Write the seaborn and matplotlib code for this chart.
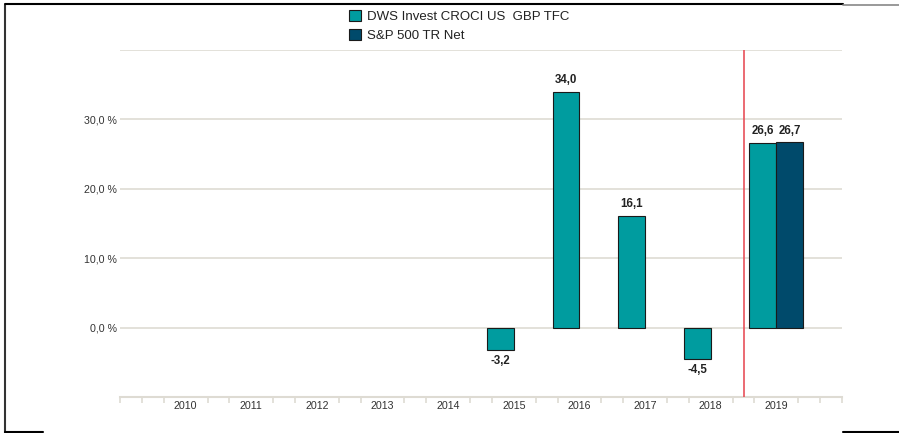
import numpy as np
import pandas as pd
import matplotlib
matplotlib.use("Agg")
import matplotlib.pyplot as plt
import matplotlib.patches as mpatches
import matplotlib.lines as mlines
import seaborn as sns

years = ["2010", "2011", "2012", "2013", "2014", "2015", "2016", "2017", "2018", "2019"]
fund_name = "DWS Invest CROCI US  GBP TFC"
bench_name = "S&P 500 TR Net"
fund_values = [np.nan, np.nan, np.nan, np.nan, np.nan, -3.2, 34.0, 16.1, -4.5, 26.6]
bench_values = [np.nan, np.nan, np.nan, np.nan, np.nan, np.nan, np.nan, np.nan, np.nan, 26.7]
y_ticks = [0, 10, 20, 30, 40]
y_ticklabels = ["0,0 %", "10,0 %", "20,0 %", "30,0 %", ""]

fund_color = "#009c9f"
bench_color = "#004a6b"
grid_color = "#dedbd3"

sns.set_style("white")
plt.rcParams["font.family"] = ["Liberation Sans", "DejaVu Sans"]

df = pd.DataFrame({
    "year": years * 2,
    "series": [fund_name] * len(years) + [bench_name] * len(years),
    "value": fund_values + bench_values,
}).dropna()

fig = plt.figure(figsize=(8.99, 4.33), dpi=100)
ax = fig.add_axes([0.1335, 0.0831, 0.8031, 0.8014])

sns.barplot(
    data=df, x="year", y="value", hue="series",
    order=years, hue_order=[fund_name, bench_name],
    palette=[fund_color, bench_color], width=0.82, saturation=1,
    edgecolor="#1a1a1a", linewidth=0.8, legend=False, ax=ax,
    zorder=3,
)

# value labels, German decimal comma
for cont in ax.containers:
    ax.bar_label(cont, fmt=lambda v: f"{v:.1f}".replace(".", ","), padding=4,
                 fontsize=8.3, fontweight="bold", color="#222222")

ax.set_xlim(-1, 10)
ax.set_ylim(-10, 40)
ax.set_yticks(y_ticks)
ax.set_yticklabels(y_ticklabels)
ax.set_xlabel("")
ax.set_ylabel("")
for y in y_ticks:
    ax.axhline(y, color=grid_color, lw=1.2, zorder=1)

# red separator between history and current year
ax.axvline(8.5, color="#e8505a", lw=1.2, zorder=4)

for s in ["top", "right", "left"]:
    ax.spines[s].set_visible(False)
ax.spines["bottom"].set_color(grid_color)
ax.spines["bottom"].set_linewidth(1.5)

ax.tick_params(axis="y", length=0, pad=2, labelsize=7.7, labelcolor="#333333")
ax.tick_params(axis="x", length=0, pad=3, labelsize=7.7, labelcolor="#333333")
minor = [k / 3 for k in range(-3, 31) if k % 3 != 0 or k in (-3, 30)]
ax.set_xticks(minor, minor=True)
ax.tick_params(axis="x", which="minor", bottom=True, direction="out",
               length=4, width=1.2, color=grid_color)

handles = [
    mpatches.Patch(facecolor=fund_color, edgecolor="#1a1a1a", lw=0.8, label=fund_name),
    mpatches.Patch(facecolor=bench_color, edgecolor="#1a1a1a", lw=0.8, label=bench_name),
]
fig.legend(handles=handles, loc="upper left", bbox_to_anchor=(0.375, 1.005),
           frameon=False, fontsize=9.5, handlelength=0.9, handleheight=0.9,
           handletextpad=0.5, labelspacing=0.45, labelcolor="#222222")

# outer frame fragments
fig.add_artist(mlines.Line2D([5 / 899, 5 / 899], [0, 1 - 5 / 433], color="#333333", lw=1.5))
fig.add_artist(mlines.Line2D([5 / 899, 843 / 899], [1 - 4 / 433] * 2, color="black", lw=1.5))
fig.add_artist(mlines.Line2D([843 / 899, 1], [1 - 5 / 433] * 2, color="#888888", lw=1.2))
fig.add_artist(mlines.Line2D([5 / 899, 43 / 899], [1 / 433] * 2, color="black", lw=1.5))
fig.add_artist(mlines.Line2D([843 / 899, 1], [1 / 433] * 2, color="black", lw=1.5))

fig.savefig("out.png", dpi=100)
